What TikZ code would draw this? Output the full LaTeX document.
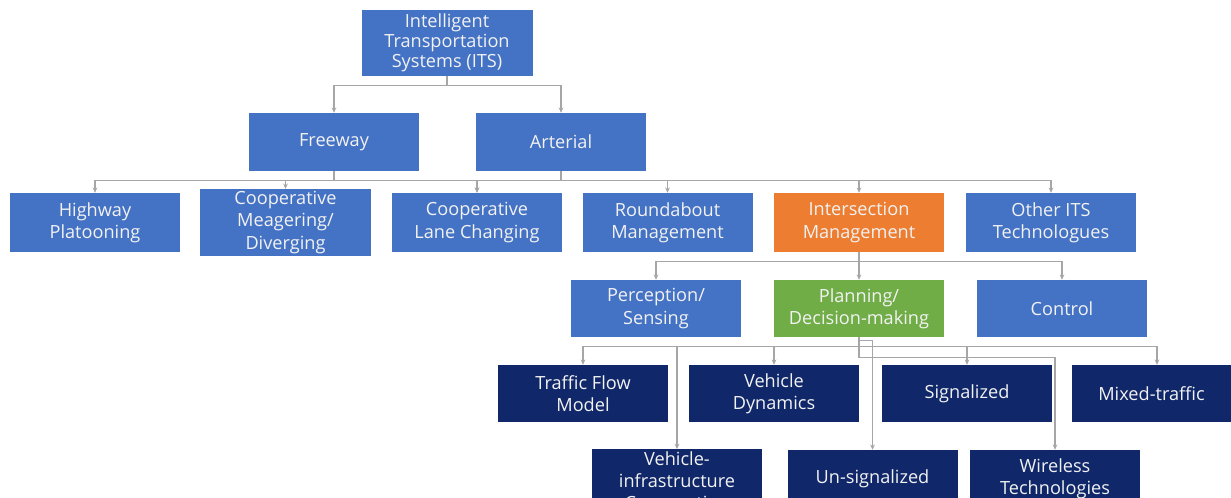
\documentclass[tikz,border=0pt]{standalone}
\usepackage{fontspec}
\setmainfont{Open Sans}
\usetikzlibrary{arrows.meta}
\definecolor{bluebox}{HTML}{4472C4}
\definecolor{orangebox}{HTML}{ED7D31}
\definecolor{greenbox}{HTML}{70AD47}
\definecolor{navybox}{HTML}{10286A}
\definecolor{connc}{HTML}{A6A6A6}
\definecolor{txtc}{HTML}{F2F2F2}
\tikzset{
  box/.style={draw=none, fill=bluebox, text=txtc, align=center, inner sep=2pt,
    minimum width=5.1cm, minimum height=1.74cm,
    font=\fontsize{15.5}{19}\selectfont},
  orangeb/.style={box, fill=orangebox},
  greenb/.style={box, fill=greenbox},
  navyb/.style={box, fill=navybox, minimum height=1.71cm},
  conn/.style={draw=connc, line width=0.9pt, -{Stealth[length=4.5pt,width=4pt]}},
}
\begin{document}
\begin{tikzpicture}[x=0.03cm, y=-0.03cm]
\fill[white] (0,0) rectangle (1231,497);
\useasboundingbox (0,0) rectangle (1231,497);
\clip (0,0) rectangle (1231,497);
% level 0
\node[box, minimum width=5.13cm, minimum height=1.98cm, font=\fontsize{15.5}{17}\selectfont] (its) at (447,43) {Intelligent\\Transportation\\Systems (ITS)};
% level 1
\node[box] (free) at (334,142) {Freeway};
\node[box] (art) at (561,142) {Arterial};
% level 2
\node[box, minimum height=1.77cm] (hp) at (95,222.5) {Highway\\Platooning};
\node[box, minimum height=1.77cm] (cm) at (285.5,222.5) {Cooperative\\Meagering/\\Diverging};
\node[box, minimum height=1.77cm] (clc) at (477,222.5) {Cooperative\\Lane Changing};
\node[box, minimum height=1.77cm] (rm) at (667.5,222.5) {Roundabout\\Management};
\node[orangeb, minimum height=1.77cm] (im) at (859,222.5) {Intersection\\Management};
\node[box, minimum height=1.77cm] (oth) at (1051,222.5) {Other ITS\\Technologues};
% level 3
\node[box, minimum height=1.71cm] (per) at (656,308.5) {Perception/\\Sensing};
\node[greenb, minimum height=1.71cm] (plan) at (859,308.5) {Planning/\\Decision-making};
\node[box, minimum height=1.71cm] (ctl) at (1062,308.5) {Control};
% level 4
\node[navyb] (tfm) at (583,393.5) {Traffic Flow\\Model};
\node[navyb] (vd) at (774,393.5) {Vehicle\\Dynamics};
\node[navyb] (sig) at (967,393.5) {Signalized};
\node[navyb, minimum width=4.77cm] (mix) at (1151.5,393.5) {Mixed-traffic};
% level 5
\node[navyb, minimum height=1.98cm] (vic) at (677,483) {Vehicle-\\infrastructure\\Cooperation};
\node[navyb] (uns) at (872.5,478.5) {Un-signalized};
\node[navyb] (wt) at (1055,478.5) {Wireless\\Technologies};
% connectors
\draw[conn] (its.south) -- ++(0,9) -| (free.north);
\draw[conn] (its.south) -- ++(0,9) -| (art.north);
\draw[conn] (free.south) -- ++(0,9) -| (hp.north);
\draw[conn] (free.south) -- ++(0,9) -| (cm.north);
\draw[conn] (free.south) -- ++(0,9) -| (clc.north);
\draw[conn] (art.south) -- ++(0,9) -| (clc.north);
\draw[conn] (art.south) -- ++(0,9) -| (rm.north);
\draw[conn] (art.south) -- ++(0,9) -| (im.north);
\draw[conn] (art.south) -- ++(0,9) -| (oth.north);
\draw[conn] (im.south) -- ++(0,9) -| (per.north);
\draw[conn] (im.south) -- ++(0,9) -| (plan.north);
\draw[conn] (im.south) -- ++(0,9) -| (ctl.north);
\draw[conn] (plan.south) -- ++(0,9) -| (tfm.north);
\draw[conn] (plan.south) -- ++(0,9) -| (vd.north);
\draw[conn] (plan.south) -- ++(0,9) -| (vic.north);
\draw[conn] (plan.south) -- ++(0,9) -| (sig.north);
\draw[conn] (plan.south) -- ++(0,9) -| ([xshift=0.165cm]mix.north);
\draw[conn] (plan.south) -- ++(0,3) -| (uns.north);
\draw[conn] (plan.south) -- ++(0,20) -| (wt.north);
\end{tikzpicture}
\end{document}
